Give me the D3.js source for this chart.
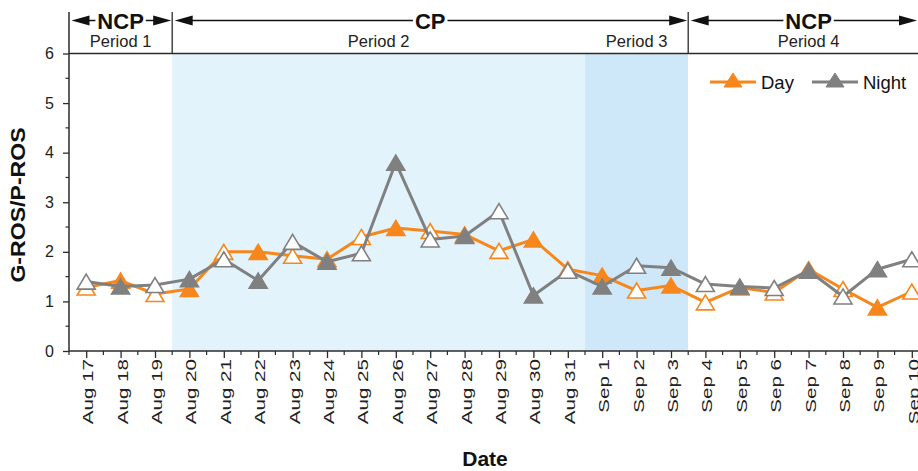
<!DOCTYPE html>
<html>
<head>
<meta charset="utf-8">
<script src="https://cdn.jsdelivr.net/npm/d3@7/dist/d3.min.js"></script>
<style>
  html, body { margin: 0; padding: 0; background: #fff; }
  svg { display: block; font-family: "Liberation Sans", Arial, sans-serif; }
</style>
</head>
<body>
<svg id="chart" width="918" height="471"></svg>
<script>
// ---------------- data ----------------
const dates = ["Aug 17","Aug 18","Aug 19","Aug 20","Aug 21","Aug 22","Aug 23","Aug 24","Aug 25",
  "Aug 26","Aug 27","Aug 28","Aug 29","Aug 30","Aug 31","Sep 1","Sep 2","Sep 3","Sep 4",
  "Sep 5","Sep 6","Sep 7","Sep 8","Sep 9","Sep 10"];
const dayValues = [1.28,1.42,1.15,1.25,2.00,2.00,1.92,1.85,2.30,2.48,2.42,2.35,2.02,2.25,1.65,
  1.52,1.22,1.32,0.98,1.28,1.18,1.65,1.25,0.88,1.20];
const nightValues = [1.40,1.30,1.33,1.45,1.85,1.42,2.20,1.80,1.97,3.80,2.25,2.32,2.82,1.12,1.62,
  1.30,1.72,1.68,1.35,1.30,1.27,1.62,1.10,1.65,1.85];
const markerFilled = [0,1,0,1,0,1,0,1,0,1,0,1,0,1,0,1,0,1,0,1,0,1,0,1,0];
const seriesNames = ["Day","Night"];
const yTicks = [0,1,2,3,4,5,6];
// periods: boundaries given as date indices (between days)
const periodLabels = ["Period 1","Period 2","Period 3","Period 4"];
const periodBounds = [-0.5, 2.5, 14.5, 17.5, 24.5];
const phaseLabels = ["NCP","CP","NCP"];
const phaseBounds = [-0.5, 2.5, 17.5, 24.5];

// ---------------- layout ----------------
const svg = d3.select("#chart");
const colorDay = "#F7871C", colorNight = "#808080";
const axisColor = "#2b2b2b";
const plotTop = 53.5, plotBottom = 351, plotLeft = 69;
const x = d3.scaleLinear().domain([-0.5, 24.5]).range([plotLeft, 929]);
const y = d3.scaleLinear().domain([0, 6]).range([plotBottom, plotTop]);

// period backgrounds
const bgColors = ["#ffffff", "#E2F3FC", "#CFE8F9", "#ffffff"];
svg.append("g").selectAll("rect").data(periodLabels).join("rect")
  .attr("x", (d, i) => x(periodBounds[i]))
  .attr("y", plotTop)
  .attr("width", (d, i) => x(periodBounds[i + 1]) - x(periodBounds[i]))
  .attr("height", plotBottom - plotTop)
  .attr("fill", (d, i) => bgColors[i]);

// ---------------- axes ----------------
const yAxis = d3.axisLeft(y).tickValues(yTicks).tickSize(6).tickPadding(4).tickFormat(d3.format("d"));
const yG = svg.append("g").attr("transform", `translate(${plotLeft},0)`).call(yAxis);
yG.select(".domain").remove();
yG.selectAll(".tick line").attr("stroke", axisColor).attr("stroke-width", 1.3);
yG.selectAll(".tick text").attr("font-size", 16).attr("fill", "#222")
  .attr("font-family", "Liberation Sans, Arial, sans-serif").attr("x", -15);
// y minor ticks
const yMinor = d3.range(0.5, 6, 1);
svg.append("g").selectAll("line").data(yMinor).join("line")
  .attr("x1", plotLeft - 3.5).attr("x2", plotLeft)
  .attr("y1", d => y(d)).attr("y2", d => y(d))
  .attr("stroke", axisColor).attr("stroke-width", 1.2);

const xAxis = d3.axisBottom(x).tickValues(d3.range(dates.length)).tickSize(7).tickFormat(i => dates[i]);
const xG = svg.append("g").attr("transform", `translate(0,${plotBottom})`).call(xAxis);
xG.select(".domain").remove();
xG.selectAll(".tick line").attr("stroke", axisColor).attr("stroke-width", 1.3);
xG.selectAll(".tick text")
  .attr("font-size", 14.5).attr("fill", "#222")
  .attr("font-family", "Liberation Sans, Arial, sans-serif")
  .attr("text-anchor", "end")
  .attr("x", null).attr("y", null).attr("dy", null)
  .attr("transform", "translate(6.5,8) scale(1,1.42) rotate(-90)");
// x minor ticks
const xMinor = d3.range(-0.5, 24.6, 1);
svg.append("g").selectAll("line").data(xMinor).join("line")
  .attr("x1", d => x(d)).attr("x2", d => x(d))
  .attr("y1", plotBottom).attr("y2", plotBottom + 4)
  .attr("stroke", axisColor).attr("stroke-width", 1.2);

// axis lines
svg.append("line").attr("x1", plotLeft).attr("x2", 929).attr("y1", plotBottom).attr("y2", plotBottom)
  .attr("stroke", axisColor).attr("stroke-width", 1.5);
svg.append("line").attr("x1", plotLeft).attr("x2", 929).attr("y1", plotTop).attr("y2", plotTop)
  .attr("stroke", axisColor).attr("stroke-width", 1.3);
svg.append("line").attr("x1", plotLeft).attr("x2", plotLeft).attr("y1", 12).attr("y2", plotBottom)
  .attr("stroke", axisColor).attr("stroke-width", 1.5);

// axis titles
svg.append("text").text("Date")
  .attr("x", 485).attr("y", 466).attr("text-anchor", "middle")
  .attr("font-size", 21).attr("font-weight", "bold").attr("fill", "#111");
svg.append("text").text("G-ROS/P-ROS")
  .attr("text-anchor", "middle")
  .attr("transform", "translate(24.5,205) scale(1,1.1) rotate(-90)")
  .attr("font-size", 21).attr("font-weight", "bold").attr("fill", "#111");

// ---------------- header (phases / periods) ----------------
const header = svg.append("g");
// vertical dividers
[2.5, 17.5].forEach(b => {
  header.append("line").attr("x1", x(b)).attr("x2", x(b)).attr("y1", 12).attr("y2", plotTop)
    .attr("stroke", axisColor).attr("stroke-width", 1.3);
});
// period labels
header.selectAll("text.period").data(periodLabels).join("text")
  .attr("class", "period")
  .attr("x", (d, i) => (x(periodBounds[i]) + x(periodBounds[i + 1])) / 2)
  .attr("y", 47)
  .attr("text-anchor", "middle").attr("font-size", 16.5).attr("fill", "#222")
  .text(d => d);

// phase arrows
const arrowY = 20.5, headLen = 18, headHalf = 5;
phaseLabels.forEach((lab, i) => {
  const x0 = x(phaseBounds[i]) + 2.5;
  const x1 = Math.min(x(phaseBounds[i + 1]) - 1, 917);
  const cx = (x(phaseBounds[i]) + x(phaseBounds[i + 1])) / 2;
  const t = header.append("text").text(lab)
    .attr("x", cx).attr("y", 28.5).attr("text-anchor", "middle")
    .attr("font-size", 22).attr("font-weight", "bold").attr("fill", "#111");
  const w = t.node().getComputedTextLength();
  const gap = 2;
  header.append("line").attr("x1", x0 + headLen - 1).attr("x2", cx - w / 2 - gap)
    .attr("y1", arrowY).attr("y2", arrowY).attr("stroke", "#111").attr("stroke-width", 1.5);
  header.append("line").attr("x1", cx + w / 2 + gap).attr("x2", x1 - headLen + 1)
    .attr("y1", arrowY).attr("y2", arrowY).attr("stroke", "#111").attr("stroke-width", 1.5);
  header.append("path")
    .attr("d", `M${x0},${arrowY} L${x0 + headLen},${arrowY - headHalf} L${x0 + headLen},${arrowY + headHalf} Z`)
    .attr("fill", "#111");
  header.append("path")
    .attr("d", `M${x1},${arrowY} L${x1 - headLen},${arrowY - headHalf} L${x1 - headLen},${arrowY + headHalf} Z`)
    .attr("fill", "#111");
});

// ---------------- series ----------------
const triW = 18, triH = 15;
const triPath = (cx, cy, w = triW, h = triH) =>
  `M${cx},${cy - h / 2} L${cx + w / 2},${cy + h / 2} L${cx - w / 2},${cy + h / 2} Z`;

const line = d3.line().x((d, i) => x(i)).y(d => y(d));
[[dayValues, colorDay], [nightValues, colorNight]].forEach(([vals, col]) => {
  const g = svg.append("g");
  g.append("path").datum(vals).attr("d", line)
    .attr("fill", "none").attr("stroke", col).attr("stroke-width", 3).attr("stroke-linejoin", "round");
  g.selectAll("path.m").data(vals).join("path").attr("class", "m")
    .attr("d", (d, i) => triPath(x(i), y(d)))
    .attr("fill", (d, i) => markerFilled[i] ? col : "#ffffff")
    .attr("stroke", col).attr("stroke-width", 1.6).attr("stroke-linejoin", "miter");
});

// ---------------- legend ----------------
const legendItems = [
  { name: seriesNames[0], col: colorDay, x0: 710 },
  { name: seriesNames[1], col: colorNight, x0: 812 }
];
const legY = 82;
legendItems.forEach(it => {
  const g = svg.append("g");
  g.append("line").attr("x1", it.x0).attr("x2", it.x0 + 46).attr("y1", legY).attr("y2", legY)
    .attr("stroke", it.col).attr("stroke-width", 3);
  g.append("path").attr("d", triPath(it.x0 + 23, legY - 2, 18, 14)).attr("fill", it.col).attr("stroke", it.col);
  g.append("text").text(it.name).attr("x", it.x0 + 51).attr("y", legY + 6.5)
    .attr("font-size", 18.5).attr("fill", "#111");
});
</script>
</body>
</html>
